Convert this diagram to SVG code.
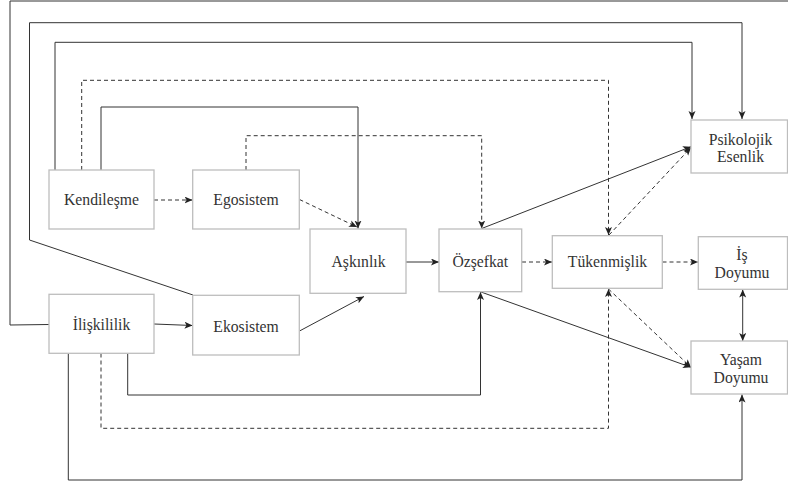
<svg xmlns="http://www.w3.org/2000/svg" width="788" height="486" viewBox="0 0 788 486">
<defs>
<marker id="ah" markerUnits="userSpaceOnUse" markerWidth="9" markerHeight="8" refX="8" refY="3.5" orient="auto">
<path d="M0,0 L8,3.5 L0,7 L2,3.5 z" fill="#222"/>
</marker>
<marker id="as" markerUnits="userSpaceOnUse" markerWidth="9" markerHeight="8" refX="8" refY="3.5" orient="auto-start-reverse">
<path d="M0,0 L8,3.5 L0,7 L2,3.5 z" fill="#222"/>
</marker>
<style>
.box{fill:#fff;stroke:#bdbdbd;stroke-width:1.3}
.t{font-family:'Liberation Serif','DejaVu Serif',serif;font-size:15.7px;fill:#333;text-anchor:middle}
.c{fill:none;stroke:#333;stroke-width:1}
.d{fill:none;stroke:#333;stroke-width:1;stroke-dasharray:4,3}
</style>
</defs>
<rect width="788" height="486" fill="#fff"/>
<g id="connectors">
<path class="c" d="M49,324.5 L10,325 L10,1 L788,1"/>
<path class="c" d="M193,295 L29.5,240 L29.5,22.7 L742,22.7 L742,119" marker-end="url(#ah)"/>
<path class="c" d="M55,170 L55,42.3 L692,42.3 L692,119" marker-end="url(#ah)"/>
<path class="d" d="M81.7,170 L81.7,80.3 L608.5,80.3 L608.5,235" marker-end="url(#ah)"/>
<path class="c" d="M101,170 L101,107 L358,107 L358,228.5" marker-end="url(#ah)"/>
<path class="d" d="M246,170 L246,135.7 L481.7,135.7 L481.7,228.5" marker-end="url(#ah)"/>
<path class="d" d="M154,200 L192.5,200" marker-end="url(#ah)"/>
<path class="d" d="M299.5,199.5 L357,227" marker-end="url(#ah)"/>
<path class="c" d="M154,324 L192.5,325.5" marker-end="url(#ah)"/>
<path class="c" d="M299.5,331 L364,296.5" marker-end="url(#ah)"/>
<path class="c" d="M406,262 L439,262" marker-end="url(#ah)"/>
<path class="d" d="M522,262 L552,262" marker-end="url(#ah)"/>
<path class="d" d="M662.5,262 L698,262" marker-end="url(#ah)"/>
<path class="c" d="M742.7,289.5 L742.7,341" marker-start="url(#as)" marker-end="url(#ah)"/>
<path class="c" d="M481.7,228.5 L691,146.7" marker-end="url(#ah)"/>
<path class="d" d="M609,235 L691,147.5" marker-end="url(#ah)"/>
<path class="c" d="M481,292 L691,367.3" marker-end="url(#ah)"/>
<path class="d" d="M608.5,289 L691,367.3" marker-end="url(#ah)"/>
<path class="c" d="M127.7,353.5 L127.7,395 L480.5,395 L480.5,292" marker-end="url(#ah)"/>
<path class="d" d="M101,353.5 L101,428.3 L608.5,428.3 L608.5,289" marker-end="url(#ah)"/>
<path class="c" d="M68.3,353.5 L68.3,480 L742,480 L742,394.5" marker-end="url(#ah)"/>
</g>
<g id="kendilesme"><rect class="box" x="49" y="170" width="105" height="59"/><text class="t" x="101.5" y="205">Kendileşme</text></g>
<g id="egosistem"><rect class="box" x="192.7" y="170" width="106.6" height="59"/><text class="t" x="246" y="205">Egosistem</text></g>
<g id="askinlik"><rect class="box" x="310" y="229" width="96" height="64.3"/><text class="t" x="358.5" y="267">Aşkınlık</text></g>
<g id="iliskililik"><rect class="box" x="49" y="294.3" width="105" height="59"/><text class="t" x="101.5" y="330">İlişkililik</text></g>
<g id="ekosistem"><rect class="box" x="192.7" y="295.3" width="106.6" height="59.7"/><text class="t" x="246" y="331.5">Ekosistem</text></g>
<g id="ozsefkat"><rect class="box" x="439" y="229" width="82.7" height="62.7"/><text class="t" x="480.3" y="267">Özşefkat</text></g>
<g id="tukenmislik"><rect class="box" x="552.3" y="235.7" width="110" height="52.6"/><text class="t" x="607.5" y="267">Tükenmişlik</text></g>
<g id="psikolojik"><rect class="box" x="691" y="120" width="96.5" height="53"/><text class="t" x="740.5" y="144.5">Psikolojik</text><text class="t" x="740.5" y="162">Esenlik</text></g>
<g id="is-doyumu"><rect class="box" x="698.3" y="236.7" width="89.2" height="52.6"/><text class="t" x="742" y="259.5">İş</text><text class="t" x="742" y="278">Doyumu</text></g>
<g id="yasam-doyumu"><rect class="box" x="691" y="341" width="96.5" height="53"/><text class="t" x="741" y="365">Yaşam</text><text class="t" x="741" y="383.3">Doyumu</text></g>
</svg>
